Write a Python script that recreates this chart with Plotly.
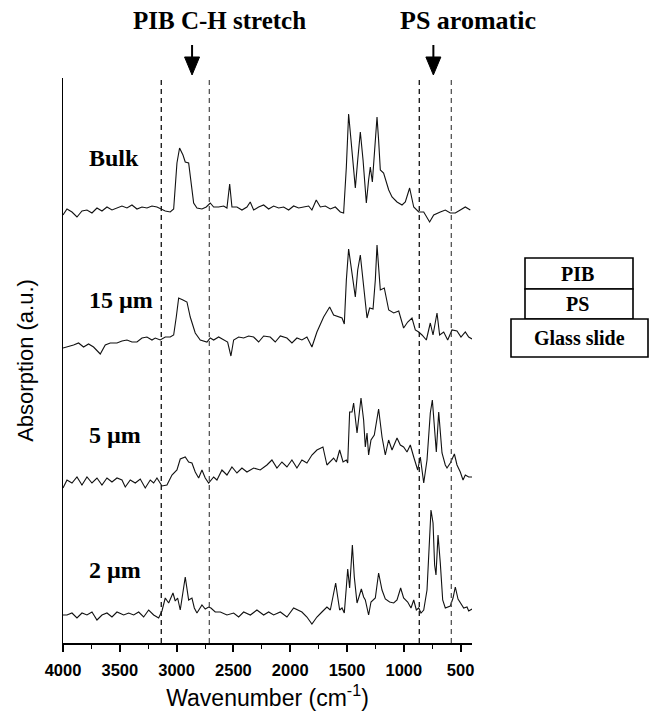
import plotly.graph_objects as go

# ---------------- data ----------------
SAMPLES = ["Bulk", "15 µm", "5 µm", "2 µm"]
OFFSETS = [4.33, 3.00, 1.66, 0.28]   # vertical stacking offsets (a.u.)

BULK_WN = [4000, 3965, 3921, 3877, 3833, 3789, 3745, 3701, 3657, 3613, 3569, 3525, 3481, 3437, 3393, 3349, 3305, 3261,
           3217, 3173, 3138, 3100, 3056, 3026, 2997, 2974, 2944, 2924, 2894, 2874, 2850, 2821, 2777, 2739, 2704, 2674,
           2630, 2586, 2557, 2533, 2513, 2469, 2425, 2381, 2352, 2322, 2278, 2234, 2190, 2146, 2102, 2058, 2014, 1970,
           1926, 1882, 1838, 1809, 1771, 1735, 1691, 1647, 1603, 1559, 1530, 1506, 1486, 1465, 1427, 1406, 1383, 1359,
           1330, 1310, 1295, 1277, 1257, 1236, 1222, 1207, 1178, 1133, 1104, 1060, 1016, 987, 949, 913, 869, 825, 773,
           737, 679, 635, 591, 547, 503, 459, 415]
BULK_ABS = [-0.05, 0.01, -0.02, -0.07, -0.01, 0, -0.03, 0.02, -0.01, 0.03, 0, 0.02, 0.04, 0.02, 0.05, 0.01, 0.03, 0.02,
            0.04, 0.03, 0.01, -0.01, -0.02, 0.01, 0.47, 0.62, 0.55, 0.48, 0.47, 0.30, 0.07, 0.02, 0.01, 0.03, 0.07, 0.03,
            0.03, 0.04, 0.02, 0.26, 0.03, 0.03, 0, 0.03, 0.08, 0, 0.03, 0.05, 0.01, 0.04, 0.02, 0.03, 0, 0.04,
            0.02, 0.03, 0.04, 0, 0.10, 0.03, 0.04, 0.01, 0.03, -0.02, -0.03, 0.43, 0.96, 0.70, 0.22, 0.50, 0.78, 0.50,
            0.07, 0.30, 0.43, 0.28, 0.60, 0.93, 0.70, 0.40, 0.37, 0.20, 0.13, 0.08, 0.05, 0.08, 0.22, 0.03, -0.02, -0.02,
            -0.12, -0.05, -0.02, 0, -0.03, -0.03, 0, 0.03, 0]

UM15_WN = [4000, 3965, 3907, 3863, 3819, 3775, 3731, 3672, 3628, 3584, 3525, 3481, 3437, 3393, 3349, 3305, 3261, 3217,
           3188, 3144, 3100, 3056, 3026, 3003, 2982, 2944, 2909, 2880, 2836, 2792, 2733, 2704, 2674, 2630, 2586, 2551,
           2522, 2498, 2454, 2410, 2366, 2322, 2278, 2234, 2176, 2132, 2087, 2029, 1985, 1941, 1897, 1853, 1809, 1765,
           1706, 1653, 1618, 1574, 1544, 1524, 1506, 1486, 1456, 1427, 1406, 1383, 1353, 1324, 1301, 1271, 1251, 1236,
           1222, 1207, 1172, 1133, 1089, 1045, 1002, 966, 928, 899, 869, 840, 802, 767, 743, 708, 685, 649, 614, 576,
           532, 497, 459, 429, 400]
UM15_ABS = [-0.05, -0.04, -0.02, 0, -0.04, -0.01, -0.04, -0.11, -0.02, 0, 0, 0.02, 0.03, 0.01, 0.01, 0.05, 0.06, 0.03,
            0.05, 0.03, 0.06, 0.06, 0.08, 0.26, 0.45, 0.43, 0.41, 0.26, 0.10, 0.03, 0.01, 0.05, 0.03, 0.06, 0.03, 0.01,
            -0.13, 0.03, 0.06, 0.05, 0.07, 0.06, 0.01, 0.07, 0.06, 0.01, 0.07, 0.05, 0, 0.05, 0.03, 0.06, -0.04, 0.11,
            0.26, 0.36, 0.28, 0.26, 0.25, 0.19, 0.63, 0.94, 0.70, 0.46, 0.73, 0.88, 0.56, 0.25, 0.35, 0.34, 0.63, 0.98,
            0.76, 0.53, 0.55, 0.33, 0.30, 0.32, 0.15, 0.21, 0.25, 0.13, 0.11, 0.08, 0.03, 0.20, 0.08, 0.30, 0.08, 0.11,
            0.03, 0.13, 0.12, 0.06, 0.11, 0.06, 0.04]

UM5_WN = [4000, 3965, 3921, 3877, 3833, 3789, 3745, 3701, 3657, 3613, 3569, 3525, 3481, 3452, 3408, 3364, 3320, 3276,
          3232, 3202, 3173, 3129, 3085, 3041, 2997, 2968, 2924, 2894, 2865, 2836, 2806, 2777, 2748, 2718, 2674, 2645,
          2601, 2557, 2513, 2469, 2425, 2381, 2322, 2264, 2205, 2161, 2117, 2073, 2029, 1985, 1941, 1897, 1853, 1809,
          1765, 1712, 1677, 1633, 1618, 1594, 1565, 1535, 1506, 1494, 1477, 1456, 1442, 1412, 1377, 1354, 1339, 1324,
          1310, 1289, 1260, 1222, 1192, 1163, 1134, 1104, 1060, 1031, 1002, 972, 943, 913, 878, 855, 825, 796, 767,
          749, 729, 714, 693, 664, 635, 620, 591, 555, 532, 503, 479, 459, 429, 400]
UM5_ABS = [-0.11, -0.03, -0.06, 0, -0.08, 0, -0.06, -0.01, -0.08, -0.01, -0.05, -0.01, -0.03, -0.10, -0.03, -0.06, -0.02,
           -0.11, -0.03, -0.06, -0.01, -0.09, -0.08, 0.02, 0.07, 0.18, 0.20, 0.15, 0.14, 0.05, -0.01, 0.07, -0.01, -0.06,
           0, -0.03, 0.07, 0.02, 0.10, 0.04, 0.09, 0.05, 0.09, 0.07, 0.12, 0.17, 0.09, 0.15, 0.10, 0.17, 0.09, 0.17,
           0.14, 0.22, 0.27, 0.30, 0.12, 0.17, 0.19, 0.15, 0.27, 0.15, 0.17, 0.14, 0.65, 0.65, 0.74, 0.44, 0.79, 0.57,
           0.30, 0.44, 0.22, 0.37, 0.42, 0.68, 0.40, 0.22, 0.37, 0.27, 0.39, 0.32, 0.30, 0.25, 0.32, 0.20, 0.07, 0.20,
           -0.06, 0.17, 0.64, 0.77, 0.50, 0.25, 0.65, 0.24, 0.12, 0.09, 0.14, 0.23, 0.12, 0.05, -0.03, 0.02, 0, 0]

UM2_WN = [4000, 3965, 3921, 3877, 3833, 3789, 3745, 3701, 3657, 3613, 3569, 3525, 3466, 3422, 3378, 3334, 3290, 3246,
          3202, 3158, 3129, 3100, 3070, 3032, 3012, 2991, 2968, 2944, 2924, 2894, 2865, 2844, 2821, 2777, 2748, 2718,
          2698, 2660, 2615, 2557, 2498, 2454, 2410, 2351, 2293, 2234, 2190, 2146, 2087, 2029, 1970, 1897, 1853, 1809,
          1765, 1721, 1677, 1647, 1618, 1600, 1582, 1565, 1544, 1524, 1506, 1494, 1477, 1453, 1436, 1412, 1398, 1374,
          1354, 1339, 1310, 1289, 1251, 1222, 1192, 1163, 1125, 1089, 1060, 1028, 1002, 966, 937, 913, 890, 869, 849,
          825, 796, 776, 761, 743, 729, 717, 699, 679, 658, 635, 591, 567, 547, 523, 503, 473, 444, 429, 400]
UM2_ABS = [0, 0, 0.02, -0.03, 0.02, 0, 0.03, -0.05, 0, 0.02, -0.02, 0.03, 0, 0.02, 0, 0.03, -0.02, 0.05,
           0, -0.03, 0.04, 0.17, 0.12, 0.22, 0.14, 0.17, 0.05, 0.22, 0.38, 0.15, 0.17, 0.07, 0.02, 0.10, 0.06, 0.08,
           0.07, 0.03, 0.03, 0, 0.02, -0.02, 0.03, 0, 0.05, 0, 0.03, 0, 0.03, -0.02, 0.07, 0.03, -0.02, -0.09,
           -0.02, 0.03, 0.08, 0.05, 0.22, 0.32, 0.18, 0.05, 0.07, 0.02, 0.28, 0.46, 0.27, 0.70, 0.38, 0.12, 0.17, 0.26,
           0.18, 0.15, 0, 0.13, 0.17, 0.42, 0.25, 0.16, 0.13, 0.12, 0.15, 0.27, 0.17, 0.13, 0.07, 0.15, 0.05, 0.07, 0.02,
           0.05, 0.25, 0.68, 1.05, 0.92, 0.50, 0.40, 0.80, 0.52, 0.15, 0.07, 0.09, 0.17, 0.28, 0.16, 0.12, 0.07, 0.08,
           0.04, 0.06]

SPECTRA_WN = [BULK_WN, UM15_WN, UM5_WN, UM2_WN]
SPECTRA_ABS = [BULK_ABS, UM15_ABS, UM5_ABS, UM2_ABS]

BAND_EDGES = [3135, 2712, 864, 582]          # dashed guide lines (cm-1)
BAND_ARROWS = [2864, 740]                    # arrow positions (cm-1)
BAND_NAMES = ["PIB C-H stretch", "PS aromatic"]
LAYERS = ["PIB", "PS", "Glass slide"]
X_TICKS = [4000, 3500, 3000, 2500, 2000, 1500, 1000, 500]
X_MINOR = [3750, 3250, 2750, 2250, 1750, 1250, 750]

# ---------------- layout helpers (pixel -> paper) ----------------
W, H = 652, 711
L, R, T, B = 63, 472, 78, 643
CM_PER_PX = 3600.0 / (R - L)


def px(xp):
    return (xp - L) / (R - L)


def py(yp):
    return (B - yp) / (B - T)


SERIF = "Liberation Serif"
SANS = "Liberation Sans"

fig = go.Figure()
for name, wn, ab, off in zip(SAMPLES, SPECTRA_WN, SPECTRA_ABS, OFFSETS):
    assert len(wn) == len(ab), name
    fig.add_trace(go.Scatter(x=wn, y=[off + a for a in ab], mode="lines", name=name,
                             line=dict(color="#111111", width=1.1), showlegend=False))

shapes = []
dash_cols = ["#111111", "#555555", "#111111", "#555555"]
for xv, c in zip(BAND_EDGES, dash_cols):
    shapes.append(dict(type="line", xref="x", yref="paper", x0=xv, x1=xv, y0=0, y1=py(80),
                       line=dict(color=c, width=1.3, dash="5px,4px")))
# arrows (shaft + filled head)
for xv in BAND_ARROWS:
    shapes.append(dict(type="line", xref="x", yref="paper", x0=xv, x1=xv, y0=py(45), y1=py(60),
                       line=dict(color="black", width=2)))
    hw = 7.5 * CM_PER_PX
    shapes.append(dict(type="path", xref="x", yref="paper",
                       path="M %g,%g L %g,%g L %g,%g Z" % (xv - hw, py(57), xv + hw, py(57), xv, py(75)),
                       fillcolor="black", line=dict(color="black", width=1)))
# inset layer boxes
boxes = [(525, 633, 258, 289), (525, 633, 289, 319), (511, 648, 319, 357)]
for (x0, x1, y0, y1) in boxes:
    shapes.append(dict(type="rect", xref="paper", yref="paper", x0=px(x0), x1=px(x1), y0=py(y1), y1=py(y0),
                       line=dict(color="black", width=1.6), fillcolor="white"))

ann = []
label_y = [158, 300, 435, 570]
for name, yy in zip(SAMPLES, label_y):
    ann.append(dict(text="<b>%s</b>" % name, xref="paper", yref="paper", x=px(87), y=py(yy),
                    xanchor="left", yanchor="middle", showarrow=False,
                    font=dict(family=SERIF, size=24, color="black")))
# band titles
ann.append(dict(text="<b>%s</b>" % BAND_NAMES[0], xref="paper", yref="paper", x=px(219), y=py(21),
                xanchor="center", yanchor="middle", showarrow=False,
                font=dict(family=SERIF, size=25, color="black")))
ann.append(dict(text="<b>%s</b>" % BAND_NAMES[1], xref="paper", yref="paper", x=px(398), y=py(21),
                xanchor="left", yanchor="middle", showarrow=False,
                font=dict(family=SERIF, size=26, color="black")))
# layer texts
layer_pos = [(577, 274), (577, 304), (579, 338)]
for name, (xx, yy) in zip(LAYERS, layer_pos):
    ann.append(dict(text="<b>%s</b>" % name, xref="paper", yref="paper", x=px(xx), y=py(yy),
                    xanchor="center", yanchor="middle", showarrow=False,
                    font=dict(family=SERIF, size=20, color="black")))

fig.update_layout(
    width=W, height=H,
    margin=dict(l=L, r=W - R, t=T, b=H - B),
    paper_bgcolor="white", plot_bgcolor="white",
    shapes=shapes, annotations=ann,
    xaxis=dict(range=[4000, 400], tickmode="array", tickvals=X_TICKS,
               ticktext=[str(v) for v in X_TICKS], automargin=False,
               showline=True, linecolor="black", linewidth=2, ticks="outside", ticklen=7,
               tickwidth=1.5, tickcolor="black", showgrid=False, zeroline=False,
               ticklabelstandoff=4,
               minor=dict(tickmode="array", tickvals=X_MINOR, ticks="outside", ticklen=4,
                          tickwidth=1.2, tickcolor="black", showgrid=False),
               tickfont=dict(family=SANS, size=16.5, color="black", weight="bold"),
               title=dict(text="Wavenumber (cm<sup>-1</sup>)", standoff=12,
                          font=dict(family=SANS, size=23, color="black"))),
    yaxis=dict(range=[0, 5.65], showline=True, linecolor="black", linewidth=1.3, automargin=False,
               showticklabels=False, ticks="", showgrid=False, zeroline=False,
               title=dict(text="Absorption (a.u.)", standoff=22,
                          font=dict(family=SANS, size=22, color="black"))),
)

fig.write_html("out.html")
